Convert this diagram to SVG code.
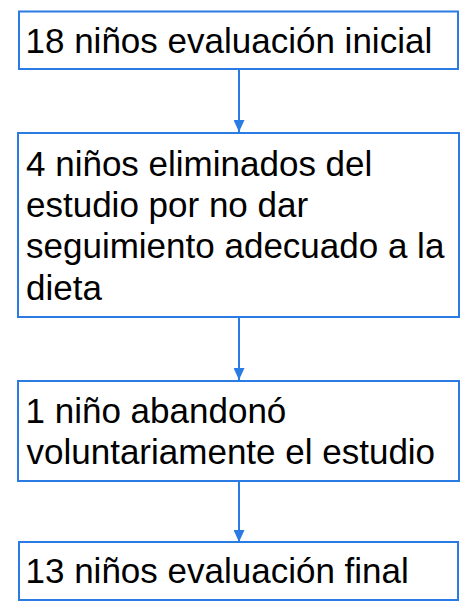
<svg xmlns="http://www.w3.org/2000/svg" width="472" height="616" viewBox="0 0 472 616">
<style>
.box{fill:#fff;stroke:#2b7be4;stroke-width:2}
.t{font-family:"Liberation Sans",Arial,sans-serif;font-size:35px;fill:#000}
.c{stroke:#2b7be4;stroke-width:2;fill:none}
</style>
<defs>
<marker id="ah" markerUnits="userSpaceOnUse" markerWidth="12" markerHeight="11" refX="12" refY="5.5" orient="auto">
<path d="M0,0 L12,5.5 L0,11 Z" fill="#2b7be4"/>
</marker>
</defs>
<rect width="472" height="616" fill="#fff"/>
<g id="connectors">
<line class="c" x1="239" y1="70" x2="239" y2="132" marker-end="url(#ah)"/>
<line class="c" x1="239" y1="318" x2="239" y2="380" marker-end="url(#ah)"/>
<line class="c" x1="239" y1="482" x2="239" y2="542" marker-end="url(#ah)"/>
</g>
<g id="n1">
<rect class="box" x="19" y="11.5" width="439" height="57.5"/>
<text class="t" x="25.5" y="53">18 niños evaluación inicial</text>
</g>
<g id="n2">
<rect class="box" x="18" y="133" width="441" height="184"/>
<text class="t" x="26" y="176">4 niños eliminados del</text>
<text class="t" x="26" y="217">estudio por no dar</text>
<text class="t" x="26" y="258">seguimiento adecuado a la</text>
<text class="t" x="26" y="300">dieta</text>
</g>
<g id="n3">
<rect class="box" x="18" y="381" width="441" height="100"/>
<text class="t" x="25.5" y="423">1 niño abandonó</text>
<text class="t" x="26.5" y="464">voluntariamente el estudio</text>
</g>
<g id="n4">
<rect class="box" x="19" y="542" width="439" height="58"/>
<text class="t" x="25.5" y="583">13 niños evaluación final</text>
</g>
</svg>
